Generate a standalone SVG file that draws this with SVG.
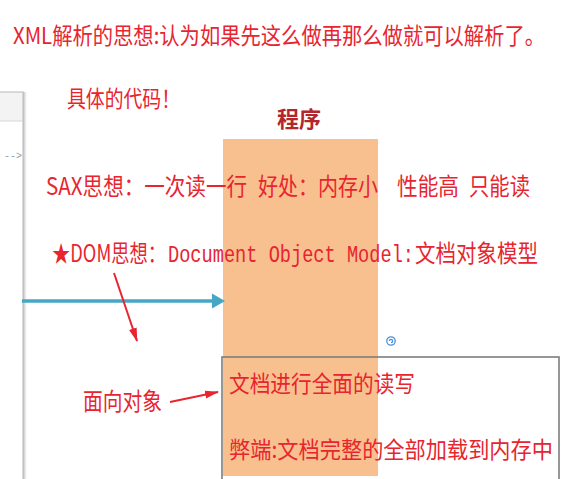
<svg xmlns="http://www.w3.org/2000/svg" width="561" height="479" viewBox="0 0 561 479">
  <defs>
    <style>
      .red { fill: #e8242f; font-family: "Noto Sans CJK SC", "Noto Sans", sans-serif; font-size: 20px; }
      .mono { fill: #e8242f; font-family: "Liberation Mono", "DejaVu Sans Mono", monospace; font-size: 19px; }
      .redline { stroke: #e8242f; stroke-width: 2; fill: none; }
    </style>
    <marker id="redhead" viewBox="0 0 14 10" refX="13" refY="5" markerWidth="14" markerHeight="10" markerUnits="userSpaceOnUse" orient="auto">
      <path d="M0,1 L14,5 L0,9 Z" fill="#e8242f"/>
    </marker>
    <linearGradient id="shadow" x1="0" y1="0" x2="1" y2="0">
      <stop offset="0" stop-color="#9a9a9a" stop-opacity="0.8"/>
      <stop offset="1" stop-color="#ffffff" stop-opacity="0"/>
    </linearGradient>
  </defs>
  <rect width="561" height="479" fill="#ffffff"/>

  <!-- left panel -->
  <g id="panel">
    <rect x="23" y="92" width="5" height="387" fill="url(#shadow)"/>
    <rect x="-2" y="92" width="25" height="29" fill="#f3f3f3"/>
    <rect x="-2" y="92" width="25" height="390" fill="none" stroke="#c4c4c4" stroke-width="1.2"/>
    <line x1="-2" y1="121" x2="23" y2="121" stroke="#d6d6d6" stroke-width="1"/>
    <text x="4" y="159" font-family="Liberation Mono, monospace" font-size="10" fill="#9a9a9a">--&gt;</text>
  </g>

  <!-- program column -->
  <g id="program">
    <rect x="223" y="139" width="155" height="337" fill="#f8c08f"/>
    <text x="299" y="127" text-anchor="middle" font-family="Noto Sans CJK SC, sans-serif" font-size="22" font-weight="700" fill="#b3262b">程序</text>
  </g>

  <!-- title -->
  <g id="title">
    <text class="red" transform="translate(13,44) scale(1,1.15)" textLength="532" lengthAdjust="spacingAndGlyphs">XML解析的思想:认为如果先这么做再那么做就可以解析了。</text>
  </g>

  <g id="code">
    <text class="red" transform="translate(67,107) scale(1,1.15)" font-size="19" textLength="113" lengthAdjust="spacingAndGlyphs">具体的代码！</text>
  </g>

  <g id="sax">
    <text class="red" transform="translate(46,195) scale(1,1.18)" textLength="201" lengthAdjust="spacingAndGlyphs">SAX思想：一次读一行</text>
    <text class="red" transform="translate(258,195) scale(1,1.18)" textLength="120" lengthAdjust="spacingAndGlyphs">好处：内存小</text>
    <text class="red" transform="translate(397,195) scale(1,1.18)" textLength="62" lengthAdjust="spacingAndGlyphs">性能高</text>
    <text class="red" transform="translate(469,195) scale(1,1.18)" textLength="61" lengthAdjust="spacingAndGlyphs">只能读</text>
  </g>

  <g id="dom">
    <text class="red" transform="translate(52,262) scale(1,1.18)" font-size="19" textLength="114" lengthAdjust="spacingAndGlyphs">★DOM思想：</text>
    <text class="mono" transform="translate(168,262) scale(1,1.3)" textLength="246" lengthAdjust="spacingAndGlyphs">Document Object Model:</text>
    <text class="red" transform="translate(415,262) scale(1,1.18)" textLength="123" lengthAdjust="spacingAndGlyphs">文档对象模型</text>
  </g>

  <g id="oop">
    <text class="red" transform="translate(83,410) scale(1,1.2)" textLength="79" lengthAdjust="spacingAndGlyphs">面向对象</text>
  </g>

  <!-- icon -->
  <g id="icon" fill="none" stroke="#4a8fd8" stroke-width="1.3">
    <circle cx="391" cy="341" r="4.2"/>
    <path d="M391,341 m-1.6,0 a1.6,1.6 0 1 1 1.6,1.6"/>
  </g>

  <!-- DOM box -->
  <g id="dombox">
    <rect x="222" y="357" width="337" height="130" fill="none" stroke="#7d7d7d" stroke-width="1.6"/>
    <text class="red" transform="translate(229,392) scale(1,1.15)" textLength="186" lengthAdjust="spacingAndGlyphs">文档进行全面的读写</text>
    <text class="red" transform="translate(229,458) scale(1,1.15)" textLength="324" lengthAdjust="spacingAndGlyphs">弊端:文档完整的全部加载到内存中</text>
  </g>

  <!-- connectors -->
  <g id="connectors">
    <line x1="22" y1="301" x2="214" y2="301" stroke="#45a6c6" stroke-width="3.5"/>
    <polygon points="212,293.5 225,301 212,308.5" fill="#45a6c6"/>
    <line class="redline" x1="114" y1="273" x2="137" y2="341" marker-end="url(#redhead)"/>
    <line class="redline" x1="170" y1="402" x2="218" y2="392" marker-end="url(#redhead)"/>
  </g>
</svg>
